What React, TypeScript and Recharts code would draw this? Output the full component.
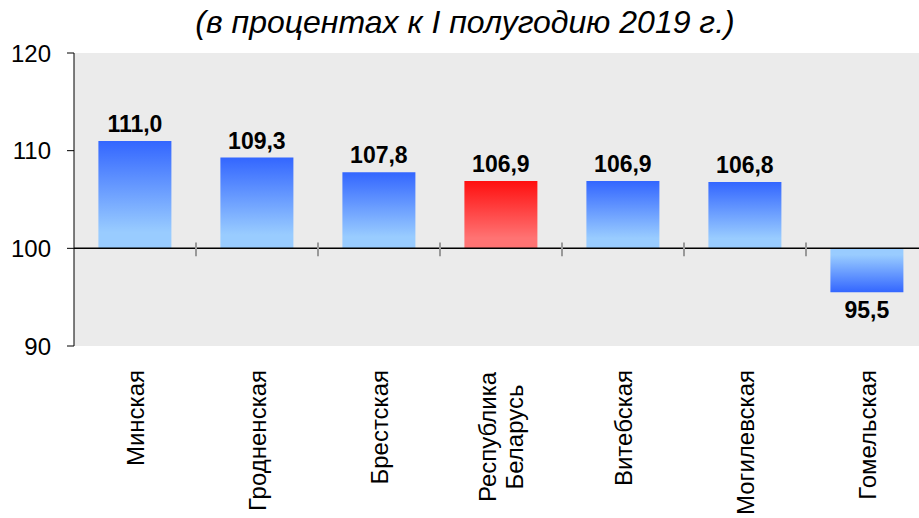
import {
  Bar,
  BarChart,
  CartesianGrid,
  Cell,
  LabelList,
  ReferenceLine,
  XAxis,
  YAxis,
} from "recharts";

// Индексы по областям, I полугодие 2020 к I полугодию 2019

const regions = [
  "Минская",
  "Гродненская",
  "Брестская",
  "Республика Беларусь",
  "Витебская",
  "Могилевская",
  "Гомельская",
];
const values = [111.0, 109.3, 107.8, 106.9, 106.9, 106.8, 95.5];
const highlight = "Республика Беларусь";
const base = 100;
const yTicks = [90, 100, 110, 120];

const FONT = "Arial, 'Liberation Sans', sans-serif";

const data = regions.map((name, i) => ({
  name,
  value: values[i],
  range: [base, values[i]],
}));

function fmt(v: number): string {
  return v.toFixed(1).replace(".", ",");
}

function RegionTick(props: any) {
  const { x, y, payload } = props;
  const label: string = payload.value;
  const top = y + 16;
  if (label === highlight) {
    const lines = ["Республика", "Беларусь"];
    return (
      <g>
        {lines.map((ln, i) => (
          <text
            key={ln}
            x={0}
            y={0}
            transform={`translate(${x - 14 + i * 27}, ${top + 67}) rotate(-90)`}
            textAnchor="middle"
            dominantBaseline="central"
            fontSize={24}
            fontFamily={FONT}
            fill="#000"
          >
            {ln}
          </text>
        ))}
      </g>
    );
  }
  return (
    <text
      x={0}
      y={0}
      transform={`translate(${x}, ${top}) rotate(-90)`}
      textAnchor="end"
      dominantBaseline="central"
      fontSize={24}
      fontFamily={FONT}
      fill="#000"
    >
      {label}
    </text>
  );
}

function ValueLabel(props: any) {
  const { x, y, width, height, index } = props;
  const v = values[index];
  const t = Math.min(y, y + height);
  const b = Math.max(y, y + height);
  const up = v >= base;
  return (
    <text
      x={x + width / 2}
      y={up ? t - 9 : b + 26}
      textAnchor="middle"
      fontSize={23}
      fontWeight="bold"
      fontFamily={FONT}
      fill="#000"
    >
      {fmt(v)}
    </text>
  );
}

export default function App() {
  return (
    <div
      style={{
        position: "absolute",
        left: 0,
        top: 0,
        width: 919,
        height: 518,
        overflow: "hidden",
        background: "#fff",
      }}
    >
      <div
        style={{
          position: "absolute",
          left: 0,
          top: 2,
          width: 930,
          textAlign: "center",
          fontFamily: FONT,
          fontStyle: "italic",
          fontSize: 32,
          lineHeight: "40px",
          color: "#000",
        }}
      >
        (в процентах к I полугодию 2019 г.)
      </div>
      <BarChart
        width={928}
        height={518}
        data={data}
        barCategoryGap="20%"
        margin={{ top: 53, right: 0, left: 0, bottom: 0 }}
      >
        <defs>
          <linearGradient id="up" x1="0" y1="0" x2="0" y2="1">
            <stop offset="0%" stopColor="#3366ff" />
            <stop offset="85%" stopColor="#99ccff" />
          </linearGradient>
          <linearGradient id="down" x1="0" y1="1" x2="0" y2="0">
            <stop offset="0%" stopColor="#3366ff" />
            <stop offset="85%" stopColor="#99ccff" />
          </linearGradient>
          <linearGradient id="red" x1="0" y1="0" x2="0" y2="1">
            <stop offset="0%" stopColor="#ff0f0f" />
            <stop offset="85%" stopColor="#ff7373" />
          </linearGradient>
        </defs>
        <CartesianGrid horizontal={false} vertical={false} fill="#ebebeb" />
        <XAxis
          dataKey="name"
          interval={0}
          axisLine={false}
          tickLine={false}
          height={172}
          tick={<RegionTick />}
        />
        <YAxis
          domain={[90, 120]}
          ticks={yTicks}
          width={74}
          tickSize={7}
          tickMargin={16}
          stroke="#000"
          tick={{ fontSize: 24, fill: "#000", fontFamily: FONT }}
        />
        <Bar dataKey="range" isAnimationActive={false}>
          {data.map((d) => (
            <Cell
              key={d.name}
              fill={d.name === highlight ? "url(#red)" : d.value < base ? "url(#down)" : "url(#up)"}
            />
          ))}
          <LabelList dataKey="value" content={<ValueLabel />} />
        </Bar>
        <ReferenceLine y={base} stroke="#000" strokeWidth={1.5} />
        {regions.slice(1).map((r) => (
          <ReferenceLine
            key={r}
            position="start"
            segment={[
              { x: r, y: base - 0.8 },
              { x: r, y: base + 0.6 },
            ]}
            stroke="#999"
            strokeWidth={2}
          />
        ))}
      </BarChart>
    </div>
  );
}
